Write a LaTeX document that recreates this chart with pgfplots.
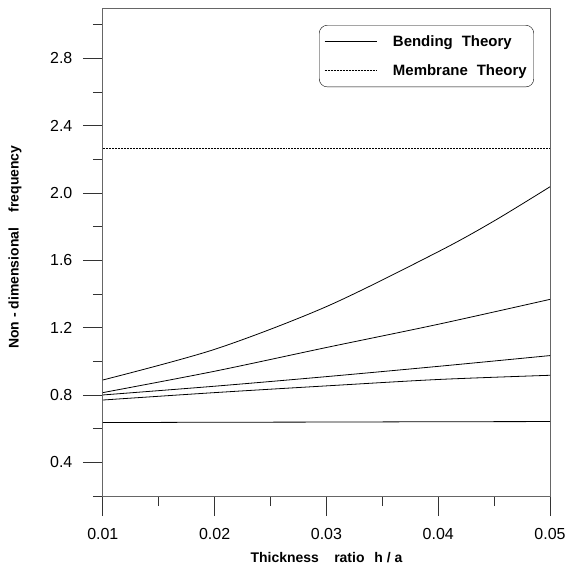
\documentclass[border=0pt]{standalone}
\usepackage{pgfplots}
\pgfplotsset{compat=1.18}
\usepackage{fontspec}
\setmainfont{Liberation Sans}
\begin{document}
\begin{tikzpicture}
\begin{axis}[
  name=ax,
  scale only axis,
  width=448pt, height=489pt,
  xmin=0.01, xmax=0.05, ymin=0.2, ymax=3.1,
  xtick={0.01,0.02,0.03,0.04,0.05},
  minor xtick={0.015,0.025,0.035,0.045},
  ytick={0.4,0.8,1.2,1.6,2.0,2.4,2.8},
  minor ytick={0.2,0.6,1.0,1.4,1.8,2.2,2.6,3.0},
  scaled x ticks=false,
  tick pos=left,
  tick align=outside,
  major tick length=20pt, minor tick length=10pt,
  every tick/.style={black!80, line width=0.8pt},
  axis line style={black!60, line width=0.8pt},
  /pgf/number format/assume math mode=true,
  xticklabel style={yshift=-9pt, /pgf/number format/.cd, fixed, fixed zerofill, precision=2},
  yticklabel style={xshift=-7pt, /pgf/number format/.cd, fixed, fixed zerofill, precision=1},
  tick label style={font=\fontsize{16}{19}\selectfont},
  xlabel={Thickness\hspace{1.1em}ratio\hspace{0.7em}h / a},
  ylabel={Non - dimensional\hspace{1.1em}frequency},
  every axis x label/.style={at={(rel axis cs:0.5,0)}, yshift=-62pt, anchor=center},
  every axis y label/.style={at={(rel axis cs:0,0.51)}, xshift=-88pt, rotate=90, anchor=center},
  label style={font=\bfseries\fontsize{14}{16}\selectfont},
  legend style={at={(0.964,0.965)}, anchor=north east, draw=black,
    rounded corners=8pt, font=\bfseries\fontsize{15}{17}\selectfont,
    inner xsep=5pt, inner ysep=8pt, row sep=13pt, cells={anchor=west},
    /tikz/every odd column/.append style={column sep=14pt}},
  legend image code/.code={\draw[#1] (0pt,0pt) -- (52pt,0pt);},
  every axis plot/.append style={black, line width=0.8pt},
]
\addplot[smooth] coordinates {
  (0.01,0.890) (0.02,1.072) (0.03,1.326) (0.04,1.652) (0.045,1.835) (0.05,2.038)
};
\addlegendentry{Bending\hspace{0.6em}Theory}
\addplot[forget plot, smooth] coordinates {
  (0.01,0.815) (0.02,0.942) (0.03,1.083) (0.04,1.221) (0.05,1.369)
};
\addplot[forget plot, smooth] coordinates {
  (0.01,0.801) (0.02,0.853) (0.03,0.910) (0.04,0.971) (0.05,1.035)
};
\addplot[forget plot, smooth] coordinates {
  (0.01,0.771) (0.02,0.815) (0.03,0.855) (0.04,0.893) (0.05,0.918)
};
\addplot[forget plot] coordinates {
  (0.01,0.637) (0.02,0.639) (0.03,0.640) (0.04,0.642) (0.05,0.643)
};
\addplot[line width=0.5pt, dash pattern=on 2pt off 1pt] coordinates {
  (0.01,2.268) (0.05,2.268)
};
\addlegendentry{Membrane\hspace{0.6em}Theory}
\end{axis}
\pgfresetboundingbox
\path ([shift={(-103pt,-76pt)}]ax.south west) rectangle ([shift={(18pt,8pt)}]ax.north east);
\end{tikzpicture}
\end{document}
